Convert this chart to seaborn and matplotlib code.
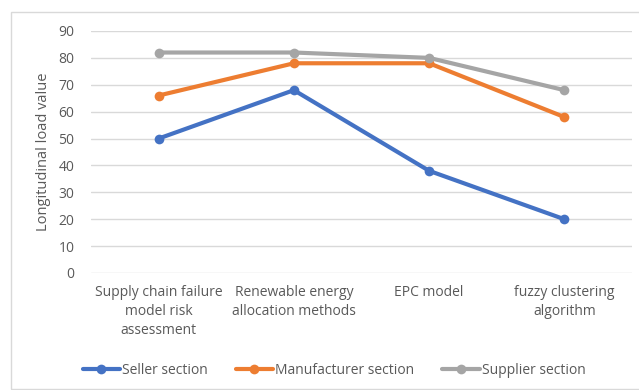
import matplotlib
matplotlib.use("Agg")
import matplotlib.pyplot as plt
from matplotlib.patches import Rectangle
import seaborn as sns
import pandas as pd

categories = [
    "Supply chain failure\nmodel risk\nassessment",
    "Renewable energy\nallocation methods",
    "EPC model",
    "fuzzy clustering\nalgorithm",
]
seller = [50, 68, 38, 20]
manufacturer = [66, 78, 78, 58]
supplier = [82, 82, 80, 68]
series_names = ["Seller section", "Manufacturer section", "Supplier section"]
colors = ["#4472C4", "#ED7D31", "#A5A5A5"]
y_ticks = list(range(0, 91, 10))

df = pd.DataFrame({
    "category": categories * 3,
    "value": seller + manufacturer + supplier,
    "series": [s for s in series_names for _ in categories],
})

sns.set_theme(style="white")
plt.rcParams["font.family"] = ["Open Sans", "DejaVu Sans"]
text_color = "#595959"

fig = plt.figure(figsize=(6.39, 3.90), dpi=100)
ax = fig.add_axes([91 / 639, 1 - 273 / 390, (632 - 91) / 639, (273 - 31) / 390])

sns.lineplot(
    data=df, x="category", y="value", hue="series", hue_order=series_names,
    palette=colors, marker="o", markersize=7, markeredgewidth=0,
    linewidth=3, ax=ax, legend=True, sort=False,
)
for ln in ax.lines:
    ln.set_clip_on(False)

ax.set_xlim(-0.5, 3.5)
ax.set_ylim(0, 90)
ax.set_yticks(y_ticks)
ax.yaxis.grid(True, color="#D9D9D9", linewidth=1)
ax.set_axisbelow(True)
for sp in ax.spines.values():
    sp.set_visible(False)
ax.tick_params(axis="both", length=0, colors=text_color, labelsize=10)
ax.tick_params(axis="x", pad=9)
ax.tick_params(axis="y", pad=12)
for lbl in ax.get_xticklabels():
    lbl.set_linespacing(1.35)
    lbl.set_verticalalignment("top")
ax.set_xlabel("")
ax.set_ylabel("Longitudinal load value", color=text_color, fontsize=10.5, labelpad=5)

handles, labels = ax.get_legend_handles_labels()
ax.get_legend().remove()
fig.legend(
    handles, labels, loc="center", bbox_to_anchor=(334 / 639, 1 - 370 / 390),
    ncol=3, frameon=False, fontsize=10, labelcolor=text_color,
    handlelength=2.7, handletextpad=0.15, columnspacing=2.0,
)

fig.patches.append(Rectangle(
    (11 / 639, 1 / 390), 630 / 639, 377 / 390, transform=fig.transFigure,
    fill=False, edgecolor="#D9D9D9", linewidth=1,
))

fig.savefig("out.png", dpi=100)
